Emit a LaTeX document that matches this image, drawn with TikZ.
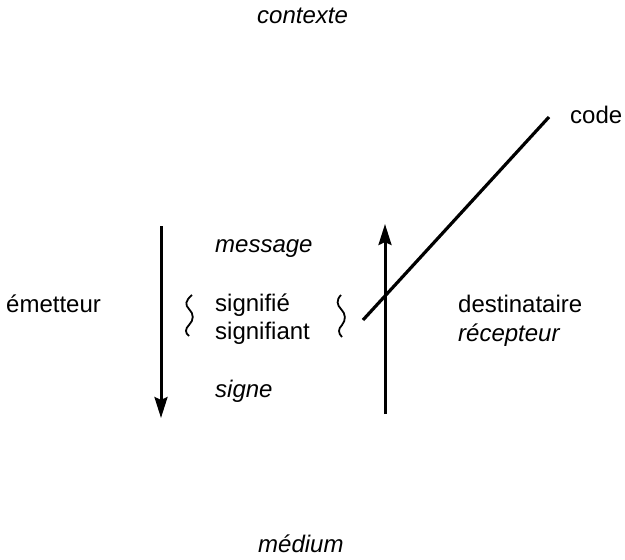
\documentclass[tikz,border=0pt]{standalone}
\usepackage{fontspec}
\setmainfont{Liberation Sans}
\usepackage{tikz}
\usetikzlibrary{arrows.meta, positioning}

\begin{document}
\begin{tikzpicture}[
        x=1pt, y=-1pt,
        % STYLES
        term/.style={inner sep=0pt, anchor=base west, font=\fontsize{24}{28}\selectfont},
        pole/.style={term, font=\fontsize{24}{28}\selectfont\itshape},
        % LINES
        flow/.style={-{Stealth[length=21pt, width=13pt, inset=3pt]}, line width=3pt, black},
        code_line/.style={line width=3.2pt, black},
        squiggle/.style={line width=1.8pt, black}
    ]
    \useasboundingbox (0,0) rectangle (625,560);

    % ===================================
    % 1. Context, code and medium
    % ===================================
    \node[pole] (contexte) at (257,23) {contexte};
    \node[term] (code) at (570,123) {code};
    \node[pole] (medium) at (258,552) {médium};

    % ===================================
    % 2. Sender and receiver
    % ===================================
    \node[term] (emetteur) at (6,312) {émetteur};
    \node[term] (destinataire) at (458,312) {destinataire};
    \node[pole] (recepteur) at (458,341) {récepteur};

    % --- Message column ---
    \node[pole] (message) at (215,252) {message};
    \node[term] (signifie) at (215,311) {signifié};
    \node[term] (signifiant) at (215,339) {signifiant};
    \node[pole] (signe) at (215,397) {signe};

    % Flèches verticales
    \coordinate (emTop) at (161,226);
    \coordinate (emBot) at (161,418);
    \coordinate (deBot) at (385,414);
    \coordinate (deTop) at (385,224);
    \draw[flow] (emTop) -- (emBot);
    \draw[flow] (deBot) -- (deTop);

    % Ligne du code
    \coordinate (codeStart) at (363,320);
    \coordinate (codeEnd) at (549,117);
    \draw[code_line] (codeStart) -- (codeEnd);

    % Accolades ondulées
    \draw[squiggle] (192,295) .. controls (185,301) and (185,305) .. (189,309)
        .. controls (194,314) and (194,320) .. (189,325)
        .. controls (185,329) and (185,333) .. (189,336);
    \draw[squiggle] (341,295) .. controls (336,300) and (337,305) .. (341,309)
        .. controls (346,314) and (346,320) .. (342,325)
        .. controls (338,329) and (338,333) .. (342,337);

    \end{tikzpicture}
\end{document}
